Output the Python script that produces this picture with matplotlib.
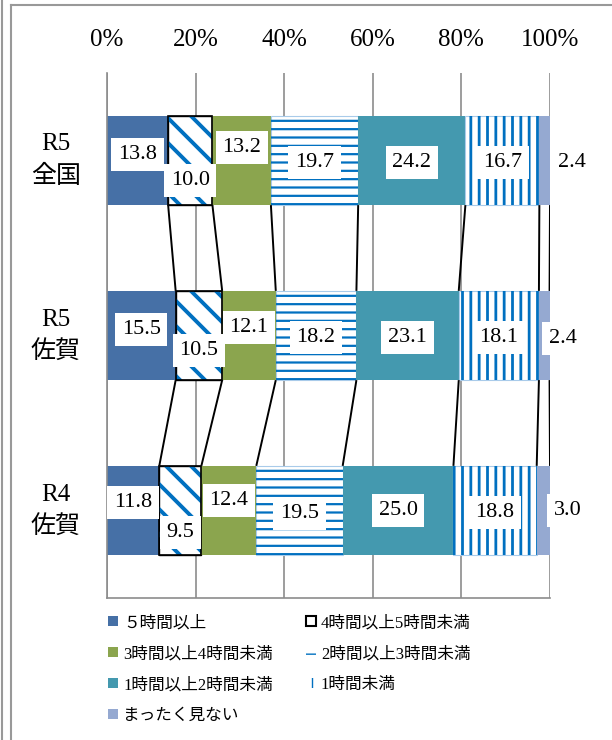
import matplotlib
matplotlib.use("Agg")
import matplotlib.pyplot as plt
from matplotlib.patches import Patch
from matplotlib.lines import Line2D
import matplotlib.hatch as mh
import numpy as np

plt.rcParams['font.family'] = ['Liberation Serif', 'Noto Sans CJK JP']

_se_orig = mh.SouthEastHatch.__init__
def _se_init(self, hatch, density):
    _se_orig(self, hatch, density * 8 / 6)
mh.SouthEastHatch.__init__ = _se_init

# ---- data ----
categories = ["R5\n全国", "R5\n佐賀", "R4\n佐賀"]
series_names = ["５時間以上", "4時間以上5時間未満", "3時間以上4時間未満",
                "2時間以上3時間未満", "1時間以上2時間未満", "1時間未満", "まったく見ない"]
v_5h = [13.8, 15.5, 11.8]
v_4_5h = [10.0, 10.5, 9.5]
v_3_4h = [13.2, 12.1, 12.4]
v_2_3h = [19.7, 18.2, 19.5]
v_1_2h = [24.2, 23.1, 25.0]
v_lt1h = [16.7, 18.1, 18.8]
v_none = [2.4, 2.4, 3.0]
tick_labels = ["0%", "20%", "40%", "60%", "80%", "100%"]

values = np.array([v_5h, v_4_5h, v_3_4h, v_2_3h, v_1_2h, v_lt1h, v_none])  # series x category

# ---- styles ----
blue = "#0070C0"
styles = [
    dict(color="#4670A6", hatch=None, edge="none", hlw=1),
    dict(color="white", hatch="\\", edge=blue, hlw=2.8, border="black"),
    dict(color="#8BA54E", hatch=None, edge="none", hlw=1),
    dict(color="white", hatch="--", edge=blue, hlw=1.6, border="#A9CBEA"),
    dict(color="#4499AF", hatch=None, edge="none", hlw=1),
    dict(color="white", hatch="||", edge=blue, hlw=2.0, border="#A9CBEA"),
    dict(color="#95A9D1", hatch=None, edge="none", hlw=1),
]
# label offsets in pixels (dx right, dy down)
label_dy = [[-6, 20, -13, 2, 2, 2, 2],
            [-6, 15, -8, 2, 2, 2, 3],
            [-8, 22, -10, 3, 0, 2, 0]]
last_dx = [22, 13, 18]

W, H = 612, 740
fig = plt.figure(figsize=(W / 100, H / 100), dpi=100)
ax = fig.add_axes([107 / W, 1 - 598 / H, (550 - 107) / W, (598 - 73) / H])

ypos = np.arange(len(categories))
bar_h = 0.51
cum = np.zeros(len(categories))
for i, st in enumerate(styles):
    vals = values[i]
    if st["hatch"] is None:
        ax.barh(ypos, vals, left=cum, height=bar_h, color=st["color"],
                edgecolor="none", linewidth=0, zorder=2)
    else:
        ax.barh(ypos, vals, left=cum, height=bar_h, color="white",
                edgecolor=st["border"], linewidth=1.0 if st["border"] == "black" else 0.8,
                zorder=2)
        with plt.rc_context({'hatch.linewidth': st["hlw"]}):
            bars = ax.barh(ypos, vals, left=cum, height=bar_h, color="none",
                           edgecolor=st["edge"], linewidth=0, hatch=st["hatch"], zorder=2.5)
            for b in bars:
                if hasattr(b, "set_hatch_linewidth"):
                    b.set_hatch_linewidth(st["hlw"])
        if st["border"] == "black":
            ax.barh(ypos, vals, left=cum, height=bar_h, color="none",
                    edgecolor="black", linewidth=1.2, zorder=2.6)
    # labels
    for j in range(len(categories)):
        if i == len(styles) - 1:
            x = cum[j] + vals[j]
            dx = last_dx[j]
        else:
            x = cum[j] + vals[j] / 2
            dx = 0
        ax.annotate(f"{vals[j]:.1f}", xy=(x, ypos[j]), xytext=(dx * 0.72, -label_dy[j][i] * 0.72),
                    textcoords="offset points", ha="center", va="center", fontsize=16,
                    bbox=dict(boxstyle="square,pad=0.3", fc="white", ec="none"),
                    zorder=5, annotation_clip=False)
    cum = cum + vals

# series lines
cums = np.cumsum(values, axis=0)
for k in range(cums.shape[0]):
    for j in range(len(categories) - 1):
        ax.plot([cums[k, j], cums[k, j + 1]], [ypos[j] + bar_h / 2, ypos[j + 1] - bar_h / 2],
                color="black", lw=1.4, zorder=3, solid_capstyle="butt")

ax.set_xlim(0, 100)
ax.set_ylim(len(categories) - 0.5, -0.5)
ax.set_xticks(np.arange(0, 101, 20))
ax.set_xticklabels(tick_labels, fontsize=18)
ax.xaxis.tick_top()
ax.tick_params(axis="x", length=0, pad=16)
ax.set_yticks(ypos)
ax.set_yticklabels(categories, fontsize=18, ha="center", va="center", linespacing=1.5)
ax.tick_params(axis="y", length=0, pad=37)
ax.grid(axis="x", color="#8C8C8C", lw=1.2, zorder=0)
ax.set_axisbelow(True)
for s in ["top", "right"]:
    ax.spines[s].set_visible(False)
for s in ["left", "bottom"]:
    ax.spines[s].set_color("#8C8C8C")
    ax.spines[s].set_linewidth(1.2)

# legend
handles = []
for st, name in zip(styles, series_names):
    if st["hatch"] is None:
        handles.append(Patch(facecolor=st["color"], edgecolor="none", label=name))
    elif st["border"] == "black":
        handles.append(Patch(facecolor="white", edgecolor="black", linewidth=1.5, label=name))
    else:
        handles.append(Patch(facecolor="white", edgecolor=blue, hatch=st["hatch"], linewidth=0, label=name))
order = [0, 2, 4, 6, 1, 3, 5]
leg = fig.legend([handles[k] for k in order], [series_names[k] for k in order],
                 loc="upper left", bbox_to_anchor=(108 / W, 1 - 615 / H), ncol=2,
                 frameon=False, fontsize=12, handlelength=0.6, handleheight=0.6,
                 handletextpad=0.3, labelspacing=0.9, columnspacing=2.0, borderpad=0,
                 borderaxespad=0)
leg.set_zorder(10)

# outer border
for xx in [2, 11]:
    fig.add_artist(Line2D([xx / W, xx / W], [0, 1 if xx == 2 else 1 - 5 / H],
                          transform=fig.transFigure, color="#999999", lw=1.5))
fig.add_artist(Line2D([11 / W, 1], [1 - 5 / H, 1 - 5 / H], transform=fig.transFigure,
                      color="#999999", lw=1.5))

fig.savefig("out.png", dpi=100)
